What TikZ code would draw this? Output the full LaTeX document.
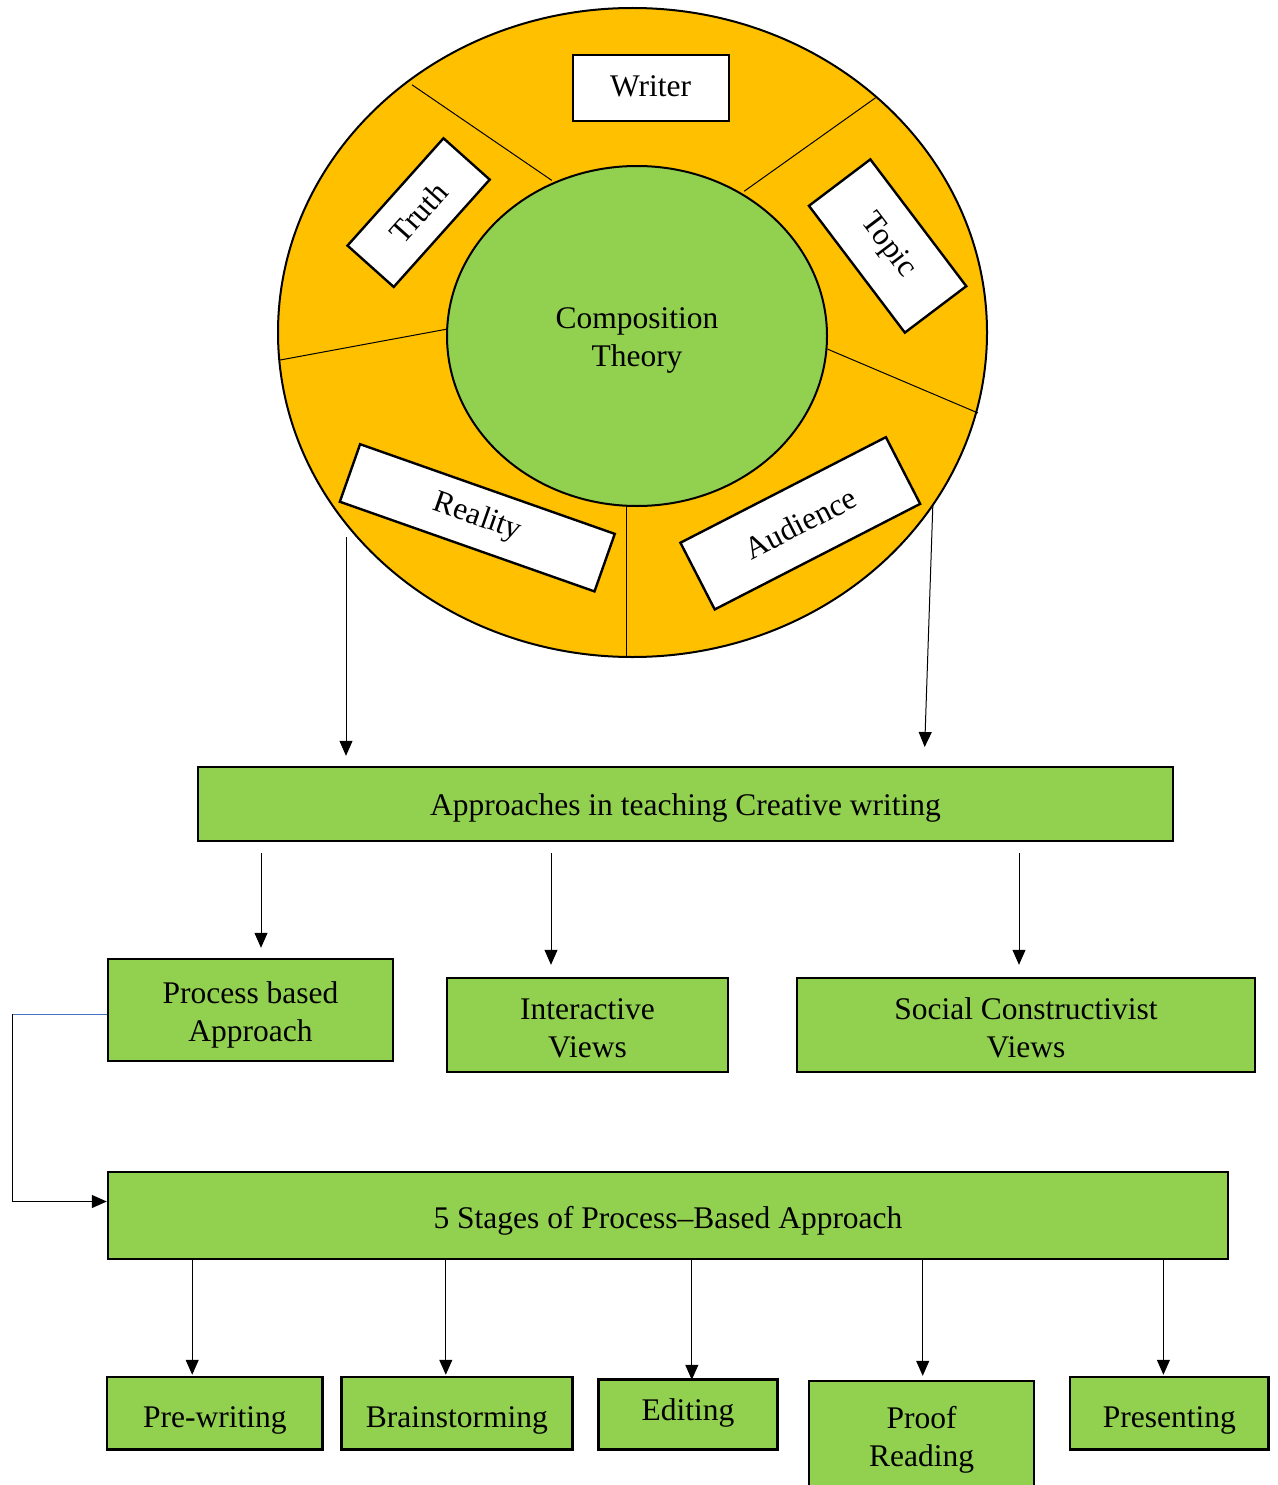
\documentclass[tikz,border=0pt]{standalone}
\usepackage{fontspec}
\setmainfont{Liberation Serif}
\usetikzlibrary{arrows.meta,shapes.geometric}
\definecolor{ringorange}{HTML}{FFC000}
\definecolor{boxgreen}{HTML}{92D050}
\definecolor{linkblue}{HTML}{4472C4}
\newcommand\upstrut[1]{\rule{0pt}{#1pt}}
\newcommand\dnstrut[1]{\rule[-#1pt]{0pt}{0pt}}
\begin{document}
\begin{tikzpicture}[x=1pt,y=-1pt,
  lbl/.style={font=\fontsize{31.5}{38}\selectfont},
  gbox/.style={draw, line width=2.4pt, fill=boxgreen, inner sep=0pt, align=center, lbl},
  wbox/.style={draw, line width=2.4pt, fill=white, inner sep=0pt, lbl},
  divider/.style={line width=1pt},
  link/.style={line width=1pt, -{Triangle[length=15pt,width=13pt]}},
]
\useasboundingbox (0,0) rectangle (1277,1485);
\clip (0,0) rectangle (1277,1485);

% ring and core
\node[ellipse, draw, line width=2pt, fill=ringorange, minimum width=709pt, minimum height=649pt, inner sep=0pt] (ring) at (632.5,332.5) {};
\draw[divider] (412,84.8) -- (551.8,180.4);
\draw[divider] (875.5,97.8) -- (744.1,191.3);
\draw[divider] (827.5,349.1) -- (978,413);
\draw[divider] (626.3,506) -- (626.3,657);
\draw[divider] (280.2,360) -- (447,329.1);
\node[ellipse, draw, line width=2pt, fill=boxgreen, minimum width=380pt, minimum height=340pt, inner sep=0pt, align=center, lbl] (core) at (637,336) {\upstrut{29.6}Composition\\Theory};

% labels on the ring
\node[wbox, minimum width=156pt, minimum height=66pt] (writer) at (650.7,88) {\dnstrut{4}Writer};
\node[wbox, rotate=48.2, minimum width=144pt, minimum height=62pt] (truth) at (418.6,212.6) {Truth};
\node[wbox, rotate=-52.9, minimum width=159pt, minimum height=77pt] (topic) at (887.6,246) {Topic};
\node[wbox, rotate=-19.4, minimum width=270pt, minimum height=61pt] (reality) at (477.3,517.8) {Reality};
\node[wbox, rotate=27.2, minimum width=231pt, minimum height=75pt] (audience) at (800.3,523.3) {Audience};

% approaches
\node[gbox, minimum width=975pt, minimum height=74pt] (appr) at (685.5,804) {\upstrut{29.6}Approaches in teaching Creative writing};
\coordinate (rl) at (346,537);
\coordinate (rr) at (932.8,506);
\coordinate (re) at (924,767);
\draw[link, shorten >=10pt] (rl) -- (rl |- appr.north);
\draw[link, shorten >=20pt] (rr) -- (re);

% three approaches
\node[gbox, minimum width=285pt, minimum height=102pt] (proc) at (250.5,1010) {\upstrut{31.6}Process based\\Approach};
\node[gbox, minimum width=281pt, minimum height=94pt] (inter) at (587.5,1025) {\upstrut{26.6}Interactive\\Views};
\node[gbox, minimum width=458pt, minimum height=94pt] (social) at (1026,1025) {\upstrut{26.6}Social Constructivist\\Views};
\draw[link, shorten <=11pt, shorten >=10pt] ([xshift=10.5pt]proc.north |- appr.south) -- ([xshift=10.5pt]proc.north);
\draw[link, shorten <=11pt, shorten >=12pt] ([xshift=-36.5pt]inter.north |- appr.south) -- ([xshift=-36.5pt]inter.north);
\draw[link, shorten <=11pt, shorten >=12pt] ([xshift=-7pt]social.north |- appr.south) -- ([xshift=-7pt]social.north);

% stages
\node[gbox, minimum width=1120pt, minimum height=87pt] (stages) at (668,1215.5) {\upstrut{33.6}5 Stages of Process–Based Approach};
\coordinate (bend) at (12,1014);
\draw[linkblue, line width=1pt] ([yshift=-4pt]proc.west) -- (bend);
\draw[link] (bend) |- ([yshift=14pt]stages.west);

% five stages
\node[gbox, minimum width=215.5pt, minimum height=72.5pt] (pre) at (214.8,1413.2) {\upstrut{35.6}Pre-writing};
\node[gbox, minimum width=231pt, minimum height=72.5pt] (brain) at (456.8,1413.2) {\upstrut{35.6}Brainstorming};
\node[gbox, minimum width=178.7pt, minimum height=70pt] (edit) at (688,1414.5) {\dnstrut{10.8}Editing};
\node[gbox, minimum width=225pt, minimum height=112pt] (proof) at (921.5,1437) {\upstrut{28.6}Proof\\Reading};
\node[gbox, minimum width=198.6pt, minimum height=72.5pt] (pres) at (1169.3,1413.2) {\upstrut{35.6}Presenting};
\draw[link, shorten >=1pt] ([xshift=-22.6pt]pre.north |- stages.south) -- ([xshift=-22.6pt]pre.north);
\draw[link, shorten >=1pt] ([xshift=-11pt]brain.north |- stages.south) -- ([xshift=-11pt]brain.north);
\draw[link, shorten >=-1.5pt] ([xshift=3.8pt]edit.north |- stages.south) -- ([xshift=3.8pt]edit.north);
\draw[link, shorten >=4pt] ([xshift=1.2pt]proof.north |- stages.south) -- ([xshift=1.2pt]proof.north);
\draw[link, shorten >=1pt] ([xshift=-5.9pt]pres.north |- stages.south) -- ([xshift=-5.9pt]pres.north);
\end{tikzpicture}
\end{document}
